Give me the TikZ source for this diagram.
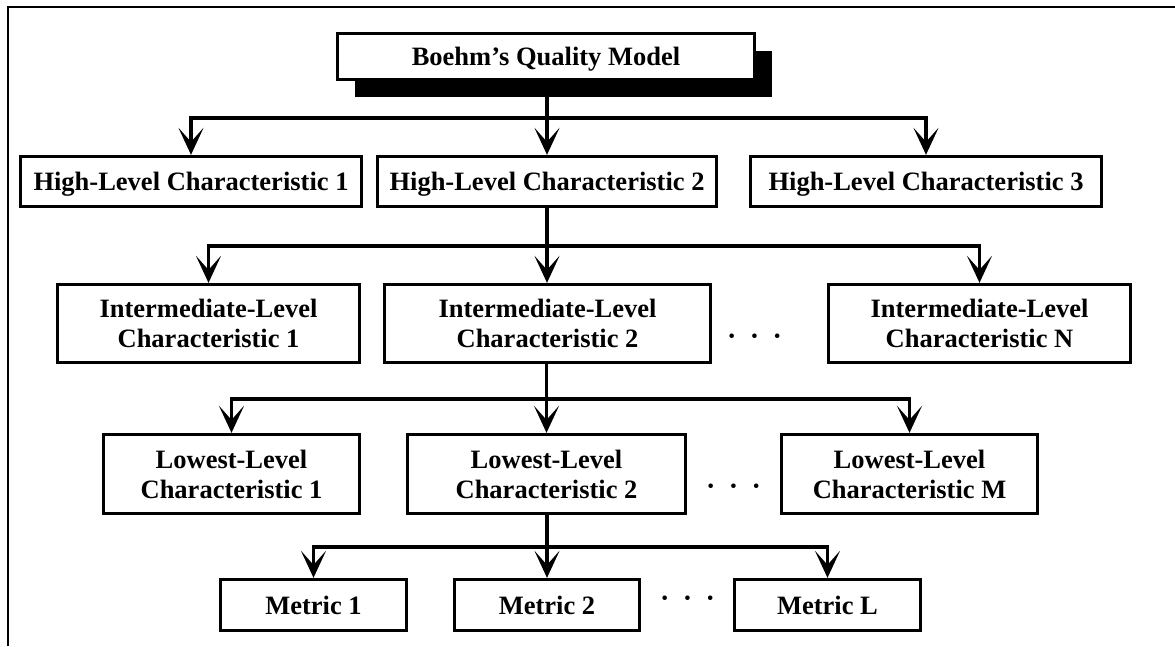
\documentclass[tikz,border=0pt]{standalone}
\usepackage{fontspec}
\setmainfont{Liberation Serif}
\usetikzlibrary{arrows.meta,shadows}
\begin{document}
\begin{tikzpicture}[x=1pt,y=-1pt,
  box/.style={draw, line width=3.3pt, fill=white, inner sep=0pt, align=center,
    text depth=0pt, font=\bfseries\fontsize{26.5pt}{30pt}\selectfont},
  arr/.style={line width=3.3pt, -{Stealth[length=27pt,width=25pt,inset=14pt]}},
  ellip/.style={inner sep=0pt, anchor=base, font=\bfseries\fontsize{28pt}{30pt}\selectfont},
  frame/.style={line width=2pt}]
\useasboundingbox (0,0) rectangle (1175,646);
% frame
\coordinate (fb) at (8,646);
\coordinate (fc) at (8,7);
\coordinate (fr) at (1175,7);
\draw[frame] (fb) -- (fc) -- (fr);
% top
\node[box, minimum width=417pt, minimum height=46pt,
  general shadow={fill=black, shadow xshift=17pt, shadow yshift=-17pt}]
  (boehm) at (546,56.5) {Boehm’s Quality Model};
% high level
\node[box, minimum width=341pt, minimum height=50pt] (hl1) at (191,181.5) {High-Level Characteristic 1};
\node[box, minimum width=339pt, minimum height=50pt] (hl2) at (547,181.5) {High-Level Characteristic 2};
\node[box, minimum width=351pt, minimum height=50pt] (hl3) at (926,181.5) {High-Level Characteristic 3};
% intermediate
\node[box, minimum width=302pt, minimum height=78pt] (il1) at (208.5,323.5) {Intermediate-Level\\Characteristic 1};
\node[box, minimum width=326pt, minimum height=78pt] (il2) at (547.5,323.5) {Intermediate-Level\\Characteristic 2};
\node[box, minimum width=302pt, minimum height=78pt] (iln) at (979.5,323.5) {Intermediate-Level\\Characteristic N};
% lowest
\node[box, minimum width=256pt, minimum height=79pt] (ll1) at (231.5,474) {Lowest-Level\\Characteristic 1};
\node[box, minimum width=278pt, minimum height=79pt] (ll2) at (546.5,474) {Lowest-Level\\Characteristic 2};
\node[box, minimum width=256pt, minimum height=79pt] (llm) at (909.5,474) {Lowest-Level\\Characteristic M};
% metrics
\node[box, minimum width=186pt, minimum height=51pt] (m1) at (313.5,605) {Metric 1};
\node[box, minimum width=185pt, minimum height=51pt] (m2) at (547,605) {Metric 2};
\node[box, minimum width=186pt, minimum height=51pt] (ml) at (827.5,605) {Metric L};
% ellipses
\node[ellip] (d1) at (754.5,345.2) {·\hspace{13.5pt}·\hspace{13.5pt}·};
\node[ellip] (d2) at (733.5,495.2) {·\hspace{13.5pt}·\hspace{13.5pt}·};
\node[ellip] (d3) at (687.5,607.2) {·\hspace{13.5pt}·\hspace{13.5pt}·};
% junctions
\coordinate (j1) at (547,118);
\coordinate (j2) at (547,246);
\coordinate (j3) at (547,399);
\coordinate (j4) at (547,547);
% connectors
\draw[arr] (boehm.south -| hl2.north) -- (hl2.north);
\draw[arr] (j1) -| (hl1.north);
\draw[arr] (j1) -| (hl3.north);
\draw[arr] (hl2.south) -- (il2.north -| hl2.south);
\draw[arr] (j2) -| (il1.north);
\draw[arr] (j2) -| (iln.north);
\draw[arr] (il2.south -| ll2.north) -- (ll2.north);
\draw[arr] (j3) -| (ll1.north);
\draw[arr] (j3) -| (llm.north);
\draw[arr] (ll2.south -| m2.north) -- (m2.north);
\draw[arr] (j4) -| (m1.north);
\draw[arr] (j4) -| (ml.north);
\end{tikzpicture}
\end{document}
